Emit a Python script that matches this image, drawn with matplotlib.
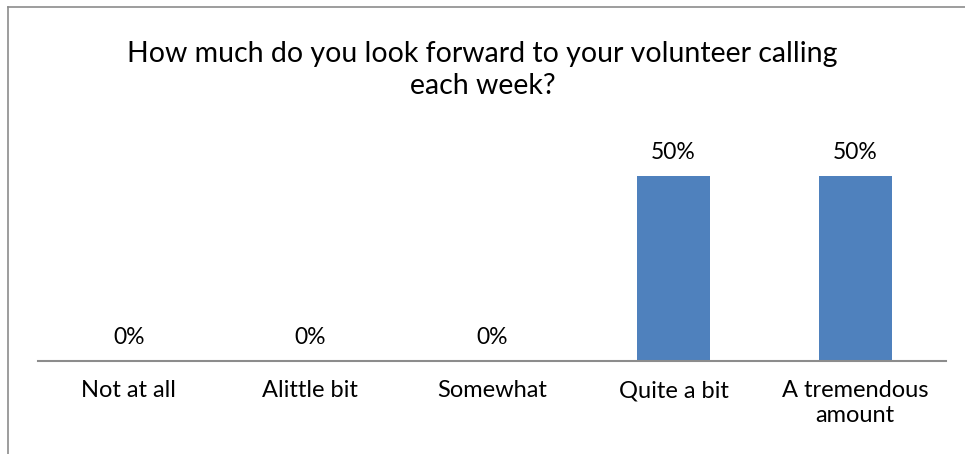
import matplotlib.pyplot as plt
from matplotlib.lines import Line2D

plt.rcParams['font.family'] = ['Lato', 'DejaVu Sans']

categories = ["Not at all", "Alittle bit", "Somewhat", "Quite a bit", "A tremendous\namount"]
shares = [0.0, 0.0, 0.0, 0.5, 0.5]
value_labels = ["0%", "0%", "0%", "50%", "50%"]

title = "How much do you look forward to your volunteer calling\neach week?"

fig = plt.figure(figsize=(9.65, 4.54), dpi=100)
ax = fig.add_axes([38 / 965, 1 - 361 / 454, 908 / 965, 222 / 454])

x = range(len(categories))
ax.bar(x, shares, width=0.4, color="#4f81bd")

for xi, v, lab in zip(x, shares, value_labels):
    ax.annotate(lab, (xi, v), xytext=(0, 17), textcoords="offset points",
                ha="center", va="center", fontsize=16.5, color="#000000")

ax.set_xlim(-0.5, len(categories) - 0.5)
ax.set_ylim(0, 0.6)
ax.set_xticks(list(x))
ax.set_xticklabels(categories, fontsize=17, linespacing=1.22)
ax.tick_params(axis="x", length=0, pad=14)
ax.set_yticks([])
for side in ["left", "right", "top"]:
    ax.spines[side].set_visible(False)
ax.spines["bottom"].set_color("#8c8c8c")
ax.spines["bottom"].set_linewidth(1.5)

fig.text(0.5, 1 - 70 / 454, title, ha="center", va="center",
         fontsize=20.5, linespacing=1.32)

# chart border, left and top edges only
fig.add_artist(Line2D([8 / 965, 8 / 965], [0, 1 - 7 / 454],
                      transform=fig.transFigure, color="#8c8c8c", lw=1.2))
fig.add_artist(Line2D([8 / 965, 1], [1 - 7 / 454, 1 - 7 / 454],
                      transform=fig.transFigure, color="#8c8c8c", lw=1.2))

fig.savefig("out.png", dpi=100)
